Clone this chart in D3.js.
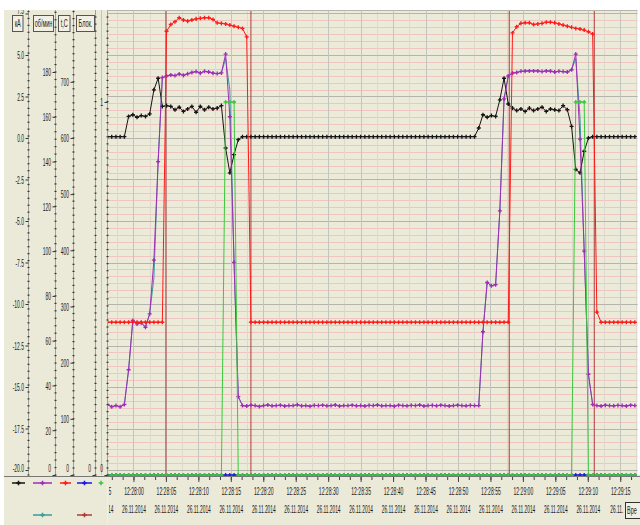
<!DOCTYPE html>
<html><head><meta charset="utf-8">
<script src="https://cdn.jsdelivr.net/npm/d3@7"></script>
<style>body{margin:0;background:#fff}svg{display:block}text{font-family:"Liberation Sans",Arial,sans-serif}</style>
</head><body><svg id="c" width="640" height="525"></svg>
<script>
// ---- data (time in seconds relative to 12:28:00, 26.11.2014) ----
const sampleStart = -4.0;   // first sample time
const samplePeriod = 0.65;  // logger period, s
const kA = [
 0.08,0.08,0.08,0.08,0.08,1.3,1.4,1.25,1.35,1.3,
 1.45,2.9,3.6,1.9,1.95,1.9,1.7,1.85,1.6,1.75,
 1.9,1.55,1.9,1.7,1.85,1.75,1.8,1.95,-0.6,-2.1,
 -1.0,-0.1,0.08,0.08,0.08,0.08,0.08,0.08,0.08,0.08,
 0.08,0.08,0.08,0.08,0.08,0.08,0.08,0.08,0.08,0.08,
 0.08,0.08,0.08,0.08,0.08,0.08,0.08,0.08,0.08,0.08,
 0.08,0.08,0.08,0.08,0.08,0.08,0.08,0.08,0.08,0.08,
 0.08,0.08,0.08,0.08,0.08,0.08,0.08,0.08,0.08,0.08,
 0.08,0.08,0.08,0.08,0.08,0.08,0.08,0.08,0.6,1.4,
 1.25,1.35,1.3,2.3,3.6,2.05,1.8,1.65,1.75,1.6,
 1.8,1.65,1.75,1.85,1.6,1.75,1.7,1.65,1.95,1.7,
 0.7,-1.9,-2.1,-0.8,0.0,0.08,0.08,0.08,0.08,0.08,
 0.08,0.08,0.08,0.08,0.08,0.08];
const rpm = [
 31.5,30.5,31,30.5,31.5,47,69,67.5,68,66,
 72,96,140,177.5,178.2,178.7,178.4,179.1,178.5,179.2,
 179.8,180.2,179.5,180.3,180.0,179.5,179.3,179.6,188,160,
 95,35,31,30.8,31.2,31,30.6,31,31.3,30.9,
 31,31.2,30.8,31,31,31.4,30.9,31,30.7,31.1,
 31,31.2,30.9,31,31.3,30.8,31,31,31.2,30.9,
 31,30.8,31.1,31,31.3,30.9,31,31,30.7,31.2,
 31,30.9,31.1,31,31.3,30.8,31,31.1,30.9,31.2,
 31,30.8,31,31.2,31,30.9,31.1,31,31,64,
 86,84.5,85,118,168,178.2,179.5,179.8,180.3,180.4,
 180.5,180.5,180.5,180.2,180.5,180.4,180.0,180.3,180.2,180.0,
 181,188,150,100,45,31.5,31,30.8,31.2,31,
 30.9,31.1,31,30.8,31.2,31];
const rpmSet = [
 31.5,30.5,31,30.5,31.5,47,69,67.5,68,66,
 72,88,140,177.5,178.2,178.7,178.4,179.1,178.5,179.2,
 179.8,180.2,179.5,180.3,180.0,179.5,179.3,179.6,186,172,
 95,35,31,30.8,31.2,31,30.6,31,31.3,30.9,
 31,31.2,30.8,31,31,31.4,30.9,31,30.7,31.1,
 31,31.2,30.9,31,31.3,30.8,31,31,31.2,30.9,
 31,30.8,31.1,31,31.3,30.9,31,31,30.7,31.2,
 31,30.9,31.1,31,31.3,30.8,31,31.1,30.9,31.2,
 31,30.8,31,31.2,31,30.9,31.1,31,31,64,
 86,84.5,85,118,168,178.2,179.5,179.8,180.3,180.4,
 180.5,180.5,180.5,180.2,180.5,180.4,180.0,180.3,180.2,180.0,
 181,186,160,100,45,31.5,31,30.8,31.2,31,
 30.9,31.1,31,30.8,31.2,31];
const tempC = [
 272,272,272,272,272,272,272,272,272,272,
 272,272,272,272,790,802,807,814,810,808,
 810,812,813,814,814,811,805,804,803,801,
 799,797,795,780,272,272,272,272,272,272,
 272,272,272,272,272,272,272,272,272,272,
 272,272,272,272,272,272,272,272,272,272,
 272,272,272,272,272,272,272,272,272,272,
 272,272,272,272,272,272,272,272,272,272,
 272,272,272,272,272,272,272,272,272,272,
 272,272,272,272,272,272,787,798,804,805,
 805,802,803,804,806,806,805,803,801,799,
 797,795,794,792,789,785,290,272,272,272,
 272,272,272,272,272,272];
const blok = [
 0,0,0,0,0,0,0,0,0,0, 0,0,0,0,0,0,0,0,0,0,
 0,0,0,0,0,0,0,0,0,0, 0,0,0,0,0,0,0,0,0,0,
 0,0,0,0,0,0,0,0,0,0, 0,0,0,0,0,0,0,0,0,0,
 0,0,0,0,0,0,0,0,0,0, 0,0,0,0,0,0,0,0,0,0,
 0,0,0,0,0,0,0,0,0,0, 0,0,0,0,0,0,0,0,0,0,
 0,0,0,0,0,0,0,0,0,0, 0,0,0,0,0,0,0,0,0,0,
 0,0,0,0,0,0];
const signal = [
 0,0,0,0,0,0,0,0,0,0, 0,0,0,0,0,0,0,0,0,0,
 0,0,0,0,0,0,0,0,1,1, 1,0,0,0,0,0,0,0,0,0,
 0,0,0,0,0,0,0,0,0,0, 0,0,0,0,0,0,0,0,0,0,
 0,0,0,0,0,0,0,0,0,0, 0,0,0,0,0,0,0,0,0,0,
 0,0,0,0,0,0,0,0,0,0, 0,0,0,0,0,0,0,0,0,0,
 0,0,0,0,0,0,0,0,0,0, 0,1,1,1,0,0,0,0,0,0,
 0,0,0,0,0,0];
// heater contactor: switching instants (s) and states (off-scale levels)
const heaterT = [-4.0, 5.0, 18.1, 57.9, 71.0, 77.7];
const heaterV = [-0.5, 2, -0.5, 2, -0.5, -0.5];

const timeTicks = [-5,0,5,10,15,20,25,30,35,40,45,50,55,60,65,70,75];
const timeLabels = ["12:27:55","12:28:00","12:28:05","12:28:10","12:28:15","12:28:20","12:28:25","12:28:30","12:28:35","12:28:40","12:28:45","12:28:50","12:28:55","12:29:00","12:29:05","12:29:10","12:29:15"];
const dateLabels = ["26.11.2014","26.11.2014","26.11.2014","26.11.2014","26.11.2014","26.11.2014","26.11.2014","26.11.2014","26.11.2014","26.11.2014","26.11.2014","26.11.2014","26.11.2014","26.11.2014","26.11.2014","26.11.2014","26.11."];
const kaTicks = [7.5,5,2.5,0,-2.5,-5,-7.5,-10,-12.5,-15,-17.5,-20];
const rpmTicks = [0,20,40,60,80,100,120,140,160,180];
const tempTicks = [0,100,200,300,400,500,600,700];
const blokTicks = [0];
const sigTicks = [0,1];
const headers = ["кА","об/мин","t,C","Блок."];

// ---- layout ----
const svg = d3.select("#c");
const L = 107.5, R = 637.5, T = 10, B = 475;
const BG = "#ebe9d7", PBG = "#ecebd9";

const x = d3.scaleLinear().domain([-4.0, 77.66]).range([L, R]);
const yKA = d3.scaleLinear().domain([-20.3, 7.71]).range([B, T]);
const yRPM = d3.scaleLinear().domain([0, 207.7]).range([B, T]);
const yT = d3.scaleLinear().domain([0, 827.8]).range([B, T]);
const yBin = d3.scaleLinear().domain([0, 1.2466]).range([B, T]);

svg.append("rect").attr("width",640).attr("height",525).attr("fill","#fff");
svg.append("rect").attr("x",4).attr("y",T).attr("width",L-4).attr("height",525-T).attr("fill",BG);
svg.append("rect").attr("x",L).attr("y",B).attr("width",640-L).attr("height",525-B).attr("fill",BG);
svg.append("rect").attr("x",L).attr("y",T).attr("width",R-L).attr("height",B-T).attr("fill",PBG);

// grid
const grid = svg.append("g");
const kaMinor = d3.range(-20, 7.71, 2.5/6);
grid.selectAll(".hm").data(kaMinor).join("line")
  .attr("x1",L).attr("x2",R).attr("y1",d=>Math.round(yKA(d))+0.5).attr("y2",d=>Math.round(yKA(d))+0.5)
  .attr("stroke","#f0c4c0").attr("stroke-width",1);
grid.selectAll(".vm").data(d3.range(-2.5, 77.6, 5)).join("line")
  .attr("y1",T).attr("y2",B).attr("x1",d=>Math.round(x(d))+0.5).attr("x2",d=>Math.round(x(d))+0.5)
  .attr("stroke","#e0d8cc").attr("stroke-width",1);
grid.selectAll(".hM").data(kaTicks).join("line")
  .attr("x1",L).attr("x2",R).attr("y1",d=>Math.round(yKA(d))+0.5).attr("y2",d=>Math.round(yKA(d))+0.5)
  .attr("stroke","#b4b4ac").attr("stroke-width",1);
grid.selectAll(".vM").data(timeTicks).join("line")
  .attr("y1",T).attr("y2",B).attr("x1",d=>Math.round(x(d))+0.5).attr("x2",d=>Math.round(x(d))+0.5)
  .attr("stroke","#c4c4bc").attr("stroke-width",1);

// series
svg.append("clipPath").attr("id","pc").append("rect").attr("x",L).attr("y",T-2).attr("width",R-L).attr("height",B-T+4);
const plot = svg.append("g").attr("clip-path","url(#pc)");
const times = kA.map((_,i)=> sampleStart + i*samplePeriod);
function series(vals, ys, color, marker, w){
  const pts = vals.map((v,i)=>[x(times[i]), ys(v)]);
  plot.append("path").attr("d", d3.line()(pts)).attr("fill","none").attr("stroke",color).attr("stroke-width",w||1);
  if(marker){
    plot.append("g").selectAll("path").data(pts).join("path")
      .attr("transform",d=>`translate(${d[0]},${d[1]})`)
      .attr("d", d3.symbol(d3.symbolCross, 9)()).attr("fill",color);
  }
}
// heater (dark red) step
plot.append("path").attr("d", d3.line().curve(d3.curveStepAfter)(heaterT.map((t,i)=>[x(t), yBin(heaterV[i])])))
  .attr("fill","none").attr("stroke","#b33a3a").attr("stroke-width",1);
series(rpmSet, yRPM, "#3a9c9c", false);
series(blok, yBin, "#1818e0", true);
series(kA, yKA, "#141414", true);
series(rpm, yRPM, "#a02cb8", true);
series(tempC, yT, "#ff1a1a", true);
series(signal, yBin, "#3cc83c", true);

// left axes
function leftAxis(scale, xp, ticks, fmt, minorStep){
  const g = svg.append("g").attr("transform",`translate(${xp},0)`);
  g.append("line").attr("x1",0).attr("x2",0).attr("y1",T).attr("y2",B).attr("stroke","#a0a098");
  const mn = d3.range(scale.domain()[0], scale.domain()[1], minorStep);
  g.selectAll(".mn").data(mn).join("line").attr("x1",-1).attr("x2",1)
    .attr("y1",d=>scale(d)).attr("y2",d=>scale(d)).attr("stroke","#333").attr("stroke-width",1.2);
  const ax = d3.axisLeft(scale).tickValues(ticks).tickSizeInner(3).tickSizeOuter(0).tickFormat(fmt);
  const ga = g.append("g").call(ax);
  ga.select(".domain").remove();
  ga.selectAll(".tick line").attr("stroke","#333");
  ga.selectAll(".tick text").each(function(d){
    const yy = scale(d);
    const sh = yy > 468 ? 468 - yy : (yy < 20 ? -3.5 : 0);
    d3.select(this).attr("x",null).attr("dy",null)
      .attr("transform",`translate(-4.5,${3.8+sh}) scale(0.45,1)`)
      .attr("font-size",11).attr("fill","#222").attr("text-anchor","end");
  });
}
leftAxis(yKA, 28.5, kaTicks, d=>d.toFixed(1), 2.5/6);
leftAxis(yRPM, 55.5, rpmTicks, d=>String(d), 20/6);
leftAxis(yT, 73.5, tempTicks, d=>String(d), 12.5);
leftAxis(yBin, 95.5, blokTicks, d=>String(d), 1.2466/66);
leftAxis(yBin, L, sigTicks, d=>String(d), 1.2466/66);

// headers
const hb = [[12.5,10.5],[33.5,20],[58.5,11.5],[76.5,18]];
headers.forEach((h,i)=>{
  svg.append("rect").attr("x",hb[i][0]).attr("y",15.5).attr("width",hb[i][1]).attr("height",16)
    .attr("fill","#f2f0e4").attr("stroke","#555").attr("stroke-width",1);
  svg.append("text").attr("transform",`translate(${hb[i][0]+hb[i][1]/2},27) scale(0.5,1)`)
    .attr("text-anchor","middle").attr("font-size",11).attr("fill","#222").text(h);
});

// bottom axis
svg.append("line").attr("x1",4).attr("x2",640).attr("y1",B+1.5).attr("y2",B+1.5).attr("stroke","#777");
const xc = svg.append("clipPath").attr("id","xc");
xc.append("rect").attr("x",109).attr("y",0).attr("width",640-109).attr("height",50);
const gx = svg.append("g").attr("transform",`translate(0,${B+2})`).attr("clip-path","url(#xc)");
gx.call(d3.axisBottom(x).tickValues(d3.range(-5, 78, 5/3)).tickSizeInner(3).tickSizeOuter(0).tickFormat(""));
gx.select(".domain").remove();
gx.selectAll(".tick line").attr("stroke","#444");
const gl = gx.selectAll(".lbl").data(timeTicks).join("g").attr("transform",d=>`translate(${x(d)+0.5},0)`);
gl.append("line").attr("y1",0).attr("y2",5).attr("stroke","#444");
gl.append("text").attr("transform","translate(0,18) scale(0.44,1)").attr("text-anchor","middle")
  .attr("font-size",11.5).attr("fill","#1a1a1a").text((d,i)=>timeLabels[i]);
gl.append("text").attr("transform",(d,i)=> i === timeTicks.length-1 ? "translate(-10.5,36) scale(0.42,1)" : "translate(0,36) scale(0.42,1)")
  .attr("text-anchor",(d,i)=> i === timeTicks.length-1 ? "start" : "middle")
  .attr("font-size",11.5).attr("fill","#1a1a1a").text((d,i)=>dateLabels[i]);

// legend
const lg = svg.append("g");
const legend = [[12,25,483,"#141414"],[33,52,483,"#a02cb8"],[60,71,483,"#ff1a1a"],[77,92,483,"#1818e0"],[99,103,483,"#3cc83c"],[33,52,515,"#3a9c9c"],[77,92,515,"#b33a3a"]];
legend.forEach(l=>{
  if(l[1]-l[0]>6) lg.append("line").attr("x1",l[0]).attr("x2",l[1]).attr("y1",l[2]).attr("y2",l[2]).attr("stroke",l[3]).attr("stroke-width",1.5);
  lg.append("path").attr("transform",`translate(${(l[0]+l[1])/2},${l[2]})`).attr("d",d3.symbol(d3.symbolCross,12)()).attr("fill",l[3]);
});
// "Время" box (cut by the window edge)
svg.append("rect").attr("x",625.5).attr("y",502.5).attr("width",20).attr("height",16).attr("fill","#f2f0e4").attr("stroke","#333");
svg.append("text").attr("transform","translate(627,514) scale(0.5,1)").attr("font-size",11).attr("fill","#222").text("Вре");

// top white strip
svg.append("rect").attr("x",0).attr("y",0).attr("width",640).attr("height",T).attr("fill","#fff");
svg.append("line").attr("x1",L).attr("x2",R).attr("y1",T+0.5).attr("y2",T+0.5).attr("stroke","#b4b4ac");
</script></body></html>
